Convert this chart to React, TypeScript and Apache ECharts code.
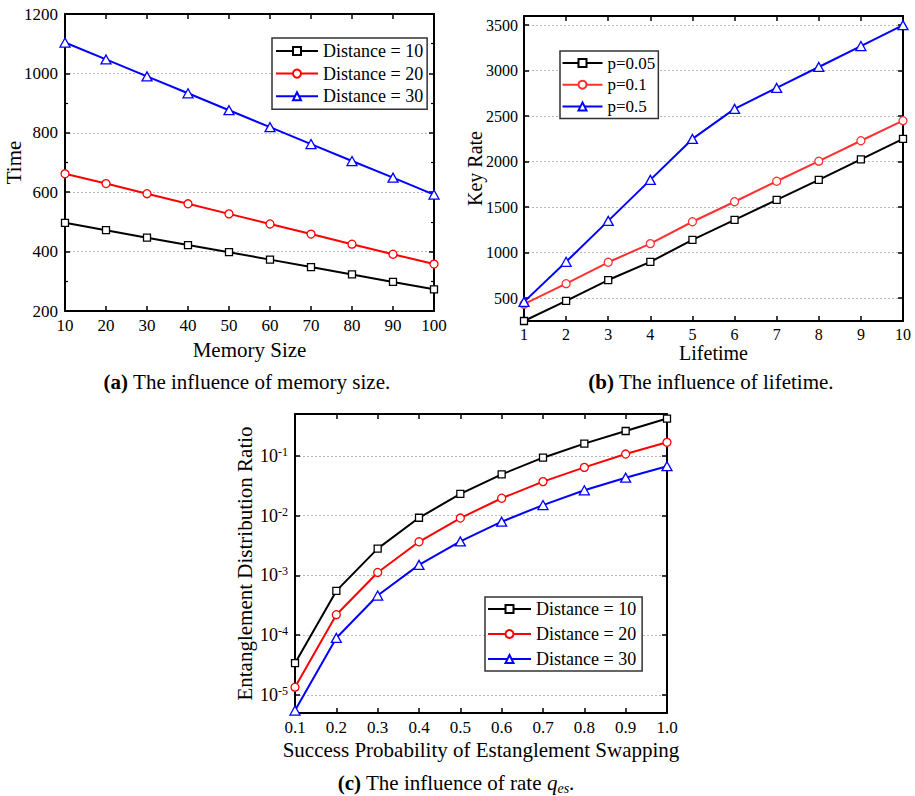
import React, { useEffect, useRef } from 'react';
import * as echarts from 'echarts';

// ---------- data ----------
const memorySizes = [10, 20, 30, 40, 50, 60, 70, 80, 90, 100];
const timeD10 = [497, 472, 447, 422, 398, 373, 348, 323, 298, 273];
const timeD20 = [662, 629, 595, 561, 527, 493, 459, 425, 391, 358];
const timeD30 = [1104, 1047, 990, 933, 876, 819, 762, 705, 649, 592];

const lifetimes = [1, 2, 3, 4, 5, 6, 7, 8, 9, 10];
const rateP005 = [250, 470, 700, 900, 1140, 1360, 1580, 1800, 2025, 2250];
const rateP01 = [435, 660, 895, 1100, 1340, 1560, 1785, 2005, 2230, 2450];
const rateP05 = [460, 900, 1350, 1800, 2250, 2580, 2810, 3040, 3270, 3500];
const keyRateTicks = [500, 1000, 1500, 2000, 2500, 3000, 3500];

const swapProbs = [0.1, 0.2, 0.3, 0.4, 0.5, 0.6, 0.7, 0.8, 0.9, 1.0];
const ratioD10 = [3.4e-5, 5.5e-4, 2.8e-3, 9.2e-3, 2.3e-2, 4.9e-2, 9.3e-2, 0.16, 0.26, 0.42];
const ratioD20 = [1.35e-5, 2.2e-4, 1.12e-3, 3.65e-3, 9.1e-3, 1.95e-2, 3.7e-2, 6.4e-2, 0.107, 0.168];
const ratioD30 = [5.5e-6, 9.0e-5, 4.6e-4, 1.5e-3, 3.7e-3, 7.9e-3, 1.5e-2, 2.65e-2, 4.3e-2, 6.7e-2];

const distanceNames = ['Distance = 10', 'Distance = 20', 'Distance = 30'];
const pNames = ['p=0.05', 'p=0.1', 'p=0.5'];

// ---------- styles ----------
const FONT = 'Liberation Serif';
const BLACK = '#000000';
const RED = '#ff0000';
const BLUE = '#0000ff';

const axisLine = { show: true, onZero: false, lineStyle: { color: '#000', width: 2 } };
const tick = { show: true, inside: true, length: 5, lineStyle: { color: '#000', width: 1.5 } };
const dotted = { show: true, lineStyle: { color: '#b8b8b8', type: [2, 2], width: 1 } };
const txt = (size: number) => ({ color: '#000', fontFamily: FONT, fontSize: size });
const plain = (v: number) => String(v);

function line(name: string, xs: number[], ys: number[], axis: number, color: string, symbol: string, size: number | number[]) {
  return {
    type: 'line',
    name,
    xAxisIndex: axis,
    yAxisIndex: axis,
    data: xs.map((x, i) => [x, ys[i]]),
    symbol,
    symbolSize: size,
    showAllSymbol: true,
    clip: false,
    lineStyle: { color, width: 2 },
    itemStyle: { color: '#ffffff', borderColor: color, borderWidth: 1.3 },
    emphasis: { disabled: true },
  };
}

function buildOption() {
  const logFormatter = (v: number) => {
    const e = Math.log10(v);
    const r = Math.round(e);
    if (Math.abs(e - r) > 1e-6) return '';
    return `{b|10}{s|${r}}`;
  };
  const logRich = {
    b: { fontSize: 18, fontFamily: FONT, color: '#000', lineHeight: 20 },
    s: { fontSize: 12, fontFamily: FONT, color: '#000', lineHeight: 12, verticalAlign: 'top' },
  };
  const nameCommon = { nameLocation: 'middle', nameMoveOverlap: false };

  return {
    animation: false,
    backgroundColor: '#ffffff',
    textStyle: { fontFamily: FONT },
    grid: [
      { left: 65, top: 14, width: 369, height: 297, containLabel: false, outerBoundsMode: 'none' },
      { left: 524, top: 16, width: 379, height: 305, containLabel: false, outerBoundsMode: 'none' },
      { left: 295, top: 414, width: 372, height: 299, containLabel: false, outerBoundsMode: 'none' },
    ],
    xAxis: [
      {
        type: 'value', gridIndex: 0, min: 10, max: 100, interval: 10, position: 'bottom',
        axisLine, axisTick: tick, axisLabel: { ...txt(17), margin: 6, formatter: plain }, splitLine: { show: false },
        name: 'Memory Size', ...nameCommon, nameGap: 28, nameTextStyle: txt(21),
      },
      {
        type: 'value', gridIndex: 0, min: 10, max: 100, interval: 10, position: 'top',
        axisLine, axisTick: tick, axisLabel: { show: false }, splitLine: { show: false },
      },
      {
        type: 'value', gridIndex: 1, min: 1, max: 10, interval: 1, position: 'bottom',
        axisLine, axisTick: tick, axisLabel: { ...txt(16), margin: 5, formatter: plain }, splitLine: { show: false },
        name: 'Lifetime', ...nameCommon, nameGap: 22, nameTextStyle: txt(20),
      },
      {
        type: 'value', gridIndex: 1, min: 1, max: 10, interval: 1, position: 'top',
        axisLine, axisTick: tick, axisLabel: { show: false }, splitLine: { show: false },
      },
      {
        type: 'value', gridIndex: 2, min: 0.1, max: 1.0, interval: 0.1, position: 'bottom',
        axisLine, axisTick: tick,
        axisLabel: { ...txt(17), margin: 6, formatter: (v: number) => v.toFixed(1) },
        splitLine: { show: false },
        name: 'Success Probability of Estanglement Swapping', ...nameCommon, nameGap: 26,
        nameTextStyle: txt(21),
      },
      {
        type: 'value', gridIndex: 2, min: 0.1, max: 1.0, interval: 0.1, position: 'top',
        axisLine, axisTick: tick, axisLabel: { show: false }, splitLine: { show: false },
      },
    ],
    yAxis: [
      {
        type: 'value', gridIndex: 0, min: 200, max: 1200, interval: 200, position: 'left',
        axisLine, axisTick: tick,
        minorTick: { show: true, splitNumber: 2, length: 3, lineStyle: { color: '#000', width: 1.2 } },
        axisLabel: { ...txt(17), margin: 7, formatter: plain }, splitLine: dotted,
        name: 'Time', ...nameCommon, nameGap: 41, nameTextStyle: txt(21),
      },
      {
        type: 'value', gridIndex: 0, min: 200, max: 1200, interval: 200, position: 'right',
        axisLine, axisTick: tick,
        minorTick: { show: true, splitNumber: 2, length: 3, lineStyle: { color: '#000', width: 1.2 } },
        axisLabel: { show: false }, splitLine: { show: false },
      },
      {
        type: 'value', gridIndex: 1, min: 250, max: 3600, position: 'left',
        axisLine, axisTick: { ...tick, customValues: keyRateTicks },
        axisLabel: { ...txt(16), margin: 6, customValues: keyRateTicks, formatter: plain }, splitLine: dotted,
        name: 'Key Rate', ...nameCommon, nameGap: 39, nameTextStyle: txt(20),
      },
      {
        type: 'value', gridIndex: 1, min: 250, max: 3600, position: 'right',
        axisLine, axisTick: { ...tick, customValues: keyRateTicks },
        axisLabel: { show: false, customValues: keyRateTicks }, splitLine: { show: false },
      },
      {
        type: 'log', logBase: 10, gridIndex: 2, min: 5e-6, max: 0.5, position: 'left',
        axisLine, axisTick: tick,
        axisLabel: { ...txt(18), margin: 7, formatter: logFormatter, rich: logRich }, splitLine: dotted,
        name: 'Entanglement Distribution Ratio', ...nameCommon, nameGap: 40, nameTextStyle: txt(21),
      },
      {
        type: 'log', logBase: 10, gridIndex: 2, min: 5e-6, max: 0.5, position: 'right',
        axisLine, axisTick: tick, axisLabel: { show: false }, splitLine: { show: false },
      },
    ],
    legend: [
      {
        data: distanceNames, orient: 'vertical', left: 272, top: 38, padding: [4, 4, 4, 3],
        itemGap: 4.6, itemWidth: 42, itemHeight: 10,
        textStyle: { ...txt(18), lineHeight: 18 },
        borderColor: '#333', borderWidth: 1.5, backgroundColor: '#fff', selectedMode: false,
      },
      {
        data: pNames, orient: 'vertical', left: 560, top: 51, padding: [3.5, 3, 3.5, 1.5],
        itemGap: 4.7, itemWidth: 40, itemHeight: 10,
        textStyle: { ...txt(17), lineHeight: 17 },
        borderColor: '#333', borderWidth: 1.5, backgroundColor: '#fff', selectedMode: false,
      },
      {
        data: distanceNames, orient: 'vertical', left: 485, top: 597, padding: [3, 6, 3, 2],
        itemGap: 7, itemWidth: 43, itemHeight: 10,
        textStyle: { ...txt(18), lineHeight: 18 },
        borderColor: '#333', borderWidth: 1.5, backgroundColor: '#fff', selectedMode: false,
      },
    ],
    series: [
      line(distanceNames[0], memorySizes, timeD10, 0, BLACK, 'rect', 7),
      line(distanceNames[1], memorySizes, timeD20, 0, RED, 'circle', 8),
      line(distanceNames[2], memorySizes, timeD30, 0, BLUE, 'triangle', [10, 9]),
      line(pNames[0], lifetimes, rateP005, 2, BLACK, 'rect', 7),
      line(pNames[1], lifetimes, rateP01, 2, '#ff3030', 'circle', 8),
      line(pNames[2], lifetimes, rateP05, 2, BLUE, 'triangle', [10, 9]),
      line(distanceNames[0], swapProbs, ratioD10, 4, BLACK, 'rect', 7),
      line(distanceNames[1], swapProbs, ratioD20, 4, RED, 'circle', 8),
      line(distanceNames[2], swapProbs, ratioD30, 4, BLUE, 'triangle', [10, 9]),
    ],
    graphic: [
      {
        type: 'text', x: 247, y: 382,
        style: {
          text: '{b|(a)} The influence of memory size.', align: 'center', verticalAlign: 'middle',
          fill: '#000', fontFamily: FONT, fontSize: 21, lineHeight: 24,
          rich: { b: { fontWeight: 'bold', fontSize: 21, fontFamily: FONT, fill: '#000', lineHeight: 24 } },
        },
      },
      {
        type: 'text', x: 711, y: 382,
        style: {
          text: '{b|(b)} The influence of lifetime.', align: 'center', verticalAlign: 'middle',
          fill: '#000', fontFamily: FONT, fontSize: 21, lineHeight: 24,
          rich: { b: { fontWeight: 'bold', fontSize: 21, fontFamily: FONT, fill: '#000', lineHeight: 24 } },
        },
      },
      {
        type: 'text', x: 456, y: 783,
        style: {
          text: '{b|(c)} The influence of rate {i|q}{sub|es}.', align: 'center', verticalAlign: 'middle',
          fill: '#000', fontFamily: FONT, fontSize: 21, lineHeight: 24,
          rich: {
            b: { fontWeight: 'bold', fontSize: 21, fontFamily: FONT, fill: '#000', lineHeight: 24 },
            i: { fontStyle: 'italic', fontSize: 21, fontFamily: FONT, fill: '#000', lineHeight: 24 },
            sub: { fontStyle: 'italic', fontSize: 14, fontFamily: FONT, fill: '#000', lineHeight: 16, verticalAlign: 'bottom' },
          },
        },
      },
    ],
  };
}

export default function App() {
  const ref = useRef<HTMLDivElement>(null);
  useEffect(() => {
    if (!ref.current) return;
    const chart = echarts.init(ref.current, undefined, { renderer: 'svg' });
    chart.setOption(buildOption() as any);
    return () => chart.dispose();
  }, []);
  return (
    <div
      ref={ref}
      style={{ position: 'fixed', left: 0, top: 0, width: 915, height: 796, background: '#fff' }}
    />
  );
}
